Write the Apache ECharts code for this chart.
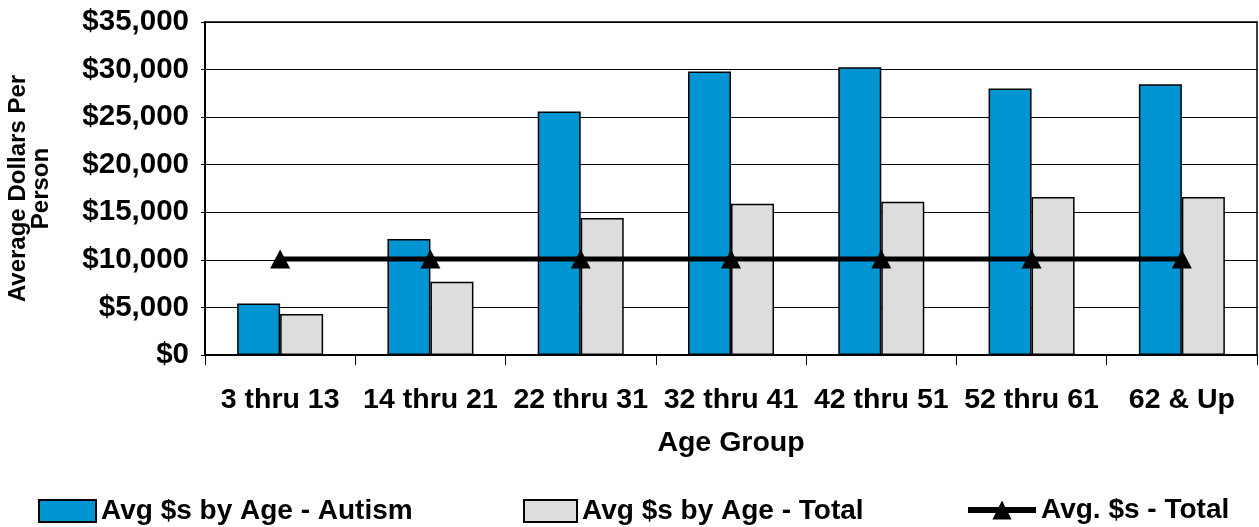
<!DOCTYPE html>
<html>
<head>
<meta charset="utf-8">
<script src="https://cdn.jsdelivr.net/npm/echarts@6/dist/echarts.min.js"></script>
<style>
html,body{margin:0;padding:0;background:#fff;}
#c{width:1259px;height:527px;}
</style>
</head>
<body>
<div id="c"></div>
<script>
const categories = ['3 thru 13','14 thru 21','22 thru 31','32 thru 41','42 thru 51','52 thru 61','62 & Up'];
const autismValues = [5400, 12200, 25600, 29800, 30250, 28000, 28450];
const totalValues = [4300, 7700, 14400, 15900, 16100, 16600, 16600];
const avgTotalValues = [10100, 10100, 10100, 10100, 10100, 10100, 10100];
const seriesNames = ['Avg $s by Age - Autism', 'Avg $s by Age - Total', 'Avg. $s - Total'];

const FONT = '"Liberation Sans", Arial, sans-serif';
const chart = echarts.init(document.getElementById('c'), null, {renderer:'canvas'});
const legendText = {fontFamily: FONT, fontWeight: 'bold', fontSize: 28, color: '#000'};
chart.setOption({
  animation: false,
  textStyle: {fontFamily: FONT},
  grid: {left: 205, right: 2, top: 22, bottom: 172, show: true, borderColor: '#000', borderWidth: 1.5,
         containLabel: false, outerBoundsMode: 'none'},
  legend: [
    {data: [{name: seriesNames[0], icon: 'rect'}], left: 38, top: 497, itemWidth: 57, itemHeight: 22, itemGap: 4, textStyle: legendText, padding: 0},
    {data: [{name: seriesNames[1], icon: 'rect'}], left: 523, top: 497, itemWidth: 53, itemHeight: 22, itemGap: 6, textStyle: legendText, padding: 0},
    {data: [seriesNames[2]], left: 965, top: 496, itemWidth: 68, itemHeight: 24, itemGap: 3, textStyle: legendText, padding: 0,
     lineStyle: {width: 6, color: '#000'}, itemStyle: {color: '#000'}}
  ],
  xAxis: {
    type: 'category',
    data: categories,
    name: 'Age Group',
    nameLocation: 'middle',
    nameGap: 74,
    nameTextStyle: {fontFamily: FONT, fontWeight: 'bold', fontSize: 28.5, color: '#000'},
    axisLine: {lineStyle: {color: '#000', width: 2}},
    axisTick: {show: true, inside: false, length: 10, lineStyle: {color: '#000', width: 1}},
    axisLabel: {fontFamily: FONT, fontWeight: 'bold', fontSize: 28.5, color: '#000', margin: 31, interval: 0}
  },
  yAxis: {
    type: 'value',
    min: 0, max: 35000, interval: 5000,
    name: 'Average Dollars Per\nPerson',
    nameLocation: 'middle',
    nameRotate: 90,
    nameGap: 152,
    nameTextStyle: {fontFamily: FONT, fontWeight: 'bold', fontSize: 24, color: '#000', lineHeight: 23},
    axisLine: {show: true, lineStyle: {color: '#000', width: 2}},
    axisTick: {show: true, length: 4, lineStyle: {color: '#000'}},
    splitLine: {lineStyle: {color: '#000', width: 1}},
    axisLabel: {
      fontFamily: FONT, fontWeight: 'bold', fontSize: 29.5, color: '#000', margin: 16,
      formatter: v => '$' + v.toLocaleString('en-US')
    }
  },
  series: [
    {
      name: seriesNames[0], type: 'bar', data: autismValues, barWidth: 43, barGap: '0%',
      itemStyle: {color: '#0094D2', borderColor: '#000', borderWidth: 1.5}
    },
    {
      name: seriesNames[1], type: 'bar', data: totalValues, barWidth: 43, barGap: '0%',
      itemStyle: {color: '#DDDDDD', borderColor: '#000', borderWidth: 1.5}
    },
    {
      name: seriesNames[2], type: 'line', data: avgTotalValues, z: 5,
      symbol: 'triangle', symbolSize: [20, 19], showSymbol: true,
      lineStyle: {color: '#000', width: 5},
      itemStyle: {color: '#000', borderWidth: 0}
    }
  ]
});
</script>
</body>
</html>
